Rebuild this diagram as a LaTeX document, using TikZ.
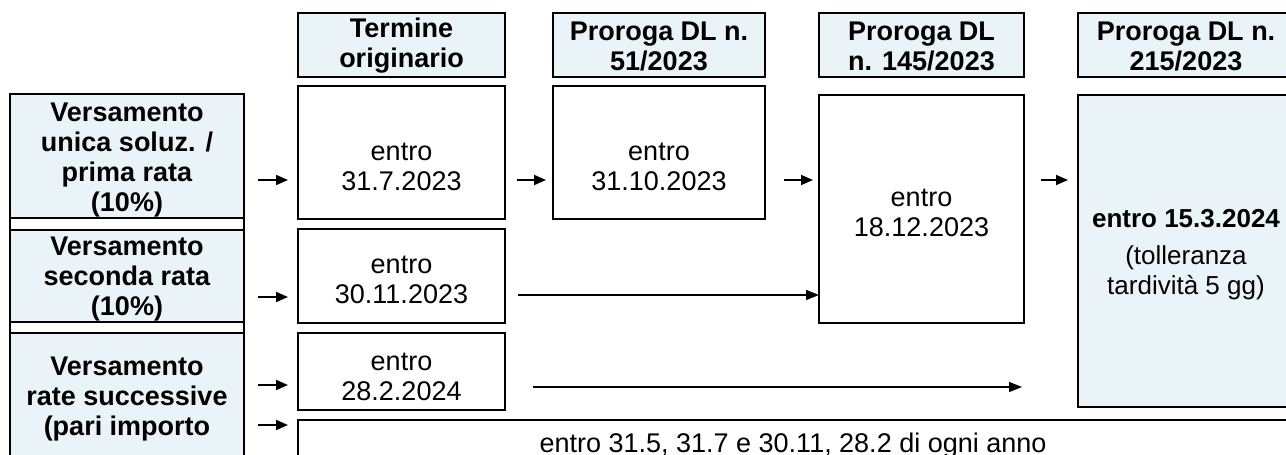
\documentclass[tikz,border=0pt]{standalone}
\usepackage{fontspec}
\setmainfont{Liberation Sans}
\usetikzlibrary{arrows.meta}
\definecolor{hdrblue}{RGB}{234,244,248}
\tikzset{
  boxbase/.style={draw, line width=2.2pt, inner sep=0pt, outer sep=0pt, anchor=north west},
  hbox/.style={boxbase, fill=hdrblue},
  wbox/.style={boxbase, fill=white},
  txt/.style={align=center, inner sep=0pt, font=\fontsize{27}{30}\selectfont},
  btxt/.style={align=center, inner sep=0pt, font=\fontsize{27}{30}\selectfont\bfseries},
  sarr/.style={line width=1.8pt, -{Triangle[length=12pt,width=10pt]}},
  larr/.style={line width=1.3pt, -{Triangle[length=13pt,width=10pt]}}
}
\begin{document}
\begin{tikzpicture}[x=1pt,y=-1pt]
\useasboundingbox (0,0) rectangle (1286,455);
\fill[white] (0,0) rectangle (1286,455);
\clip (0,0) rectangle (1286,455);

% header boxes
\node[hbox, minimum width=207pt, minimum height=64pt] (h1) at (298,13) {};
\node[hbox, minimum width=212pt, minimum height=64pt] (h2) at (553,13) {};
\node[hbox, minimum width=205pt, minimum height=64pt] (h3) at (819,13) {};
\node[hbox, minimum width=216pt, minimum height=64pt] (h4) at (1078,13) {};
\node[btxt] (t1) at (401.5,46) {Termine\\originario};
\node[btxt] (t2) at (659,46) {Proroga DL n.\\51/2023};
\node[btxt] (t3) at (921.5,46) {Proroga DL\\n. 145/2023};
\node[btxt] (t4) at (1186,46) {Proroga DL n.\\215/2023};

% left column
\node[hbox, minimum width=234pt, minimum height=124pt] (l1) at (10,94) {};
\node[hbox, minimum width=234pt, minimum height=92pt] (l2) at (10,230) {};
\node[hbox, minimum width=234pt, minimum height=140pt] (l3) at (10,333) {};
\draw[line width=2.2pt] (l1.south west) -- (l2.north west) (l1.south east) -- (l2.north east);
\draw[line width=2.2pt] (l2.south west) -- (l3.north west) (l2.south east) -- (l3.north east);
\node[btxt] (lt1) at (127,160) {Versamento\\unica soluz. /\\prima rata\\(10\%)};
\node[btxt] (lt2) at (127,279) {Versamento\\seconda rata\\(10\%)};
\node[btxt] (lt3) at (127,399) {Versamento\\rate successive\\(pari importo};

% date boxes
\node[wbox, minimum width=207pt, minimum height=133pt] (c1) at (298,86) {};
\node[wbox, minimum width=212pt, minimum height=133pt] (c2) at (553,86) {};
\node[wbox, minimum width=207pt, minimum height=94pt] (c3) at (298,229) {};
\node[wbox, minimum width=207pt, minimum height=77pt] (c4) at (298,333) {};
\node[wbox, minimum width=205pt, minimum height=228pt] (p145) at (819,95) {};
\node[hbox, minimum width=216pt, minimum height=312pt] (p215) at (1078,95) {};
\node[wbox, minimum width=992pt, minimum height=60pt] (bot) at (298,420) {};

\node[txt] (ct1) at (401.5,167) {entro\\31.7.2023};
\node[txt] (ct2) at (659,167) {entro\\31.10.2023};
\node[txt] (ct3) at (401.5,280) {entro\\30.11.2023};
\node[txt] (ct4) at (401.5,377) {entro\\28.2.2024};
\node[txt] (ct5) at (921.5,213) {entro\\18.12.2023};
\node[txt, font=\fontsize{26}{30}\selectfont] (ct6) at (1186,255) {\textbf{entro 15.3.2024}\\[7pt](tolleranza\\tardività 5 gg)};
\node[txt, anchor=base] (ct7) at (793,452) {entro 31.5, 31.7 e 30.11, 28.2 di ogni anno};

% short arrows
\coordinate (a1s) at (258,180); \coordinate (a1e) at (288,180);
\coordinate (a2s) at (258,297); \coordinate (a2e) at (288,297);
\coordinate (a3s) at (258,385); \coordinate (a3e) at (288,385);
\coordinate (a4s) at (258,425); \coordinate (a4e) at (288,425);
\coordinate (b1s) at (517,180); \coordinate (b1e) at (546,180);
\coordinate (b2s) at (784,180); \coordinate (b2e) at (813,180);
\coordinate (b3s) at (1041,180); \coordinate (b3e) at (1068,180);
\draw[sarr] (a1s) -- (a1e);
\draw[sarr] (a2s) -- (a2e);
\draw[sarr] (a3s) -- (a3e);
\draw[sarr] (a4s) -- (a4e);
\draw[sarr] (b1s) -- (b1e);
\draw[sarr] (b2s) -- (b2e);
\draw[sarr] (b3s) -- (b3e);

% long arrows
\coordinate (l2s) at (518,295);
\draw[larr] (l2s) -- (l2s -| p145.west);
\coordinate (l3s) at (533,387); \coordinate (l3e) at (1022,387);
\draw[larr] (l3s) -- (l3e);
\end{tikzpicture}
\end{document}
